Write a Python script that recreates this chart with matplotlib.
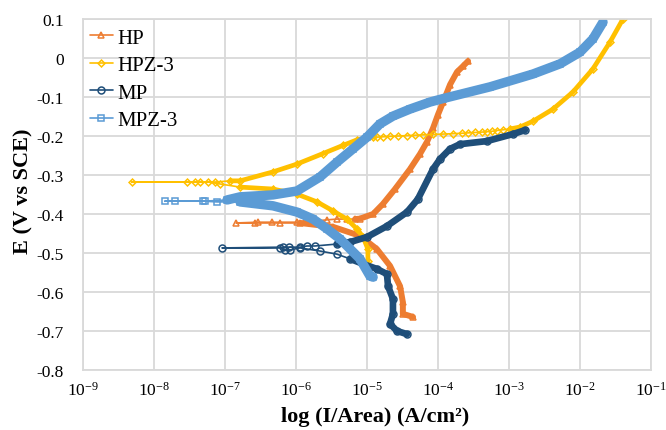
import numpy as np
import matplotlib
matplotlib.use("Agg")
import matplotlib.pyplot as plt
from matplotlib.ticker import LogFormatterSciNotation, FuncFormatter, NullLocator

plt.rcParams["font.family"] = ["Liberation Serif", "DejaVu Serif"]
plt.rcParams["mathtext.fontset"] = "custom"
plt.rcParams["mathtext.rm"] = "Liberation Serif"
plt.rcParams["axes.unicode_minus"] = False

# polarisation curves: current density (A/cm2) and potential (V vs SCE),
# cathodic end -> corrosion potential -> anodic end
hp_i = [4.45e-5, 3.2e-5, 3.2e-5, 2.92e-5, 2.11e-5, 1.38e-5, 7.96e-6, 3.32e-6, 1.14e-6,
        5.95e-7, 2.65e-7, 1.43e-7, 2.9e-7, 4.6e-7, 1.03e-6, 1.34e-6, 1.85e-6, 2.73e-6, 3.8e-6, 5.2e-6, 6.8e-6,
        7.96e-6, 1.22e-5, 1.68e-5, 2.48e-5, 4.03e-5, 5.58e-5, 7.0e-5, 8.5e-5, 1.0e-4, 1.18e-4, 1.48e-4,
        1.85e-4, 2.25e-4, 2.65e-4]
hp_e = [-0.664, -0.656, -0.626, -0.585, -0.533, -0.490, -0.456, -0.433, -0.423,
        -0.423, -0.423, -0.423, -0.421, -0.421, -0.421, -0.418, -0.418, -0.415, -0.413, -0.413, -0.413,
        -0.412, -0.400, -0.374, -0.336, -0.285, -0.246, -0.215, -0.180, -0.145, -0.113, -0.068,
        -0.036, -0.021, -0.008]

hpz_i = [1.03e-5, 1.03e-5, 8.8e-6, 7.2e-6, 5.2e-6, 3.32e-6, 1.98e-6, 1.03e-6, 4.74e-7, 1.63e-7,
         8.5e-8, 5.8e-8, 3.8e-8, 2.9e-8, 4.9e-9, 4.4e-8, 7.2e-8, 1.18e-7,
         1.63e-7, 4.74e-7, 1.03e-6, 2.4e-6, 4.6e-6, 7.2e-6, 1.22e-5,
         1.37e-5, 1.70e-5, 2.11e-5, 2.76e-5, 3.62e-5, 4.74e-5, 6.2e-5, 8.6e-5, 1.19e-4, 1.64e-4,
         2.16e-4, 2.67e-4, 3.32e-4, 4.12e-4, 4.85e-4, 5.70e-4, 6.71e-4, 8.3e-4, 1.03e-3,
         1.43e-3, 2.18e-3, 4.17e-3, 7.97e-3, 1.52e-2, 2.65e-2, 4.03e-2]
hpz_e = [-0.521, -0.490, -0.459, -0.438, -0.413, -0.392, -0.369, -0.349, -0.336, -0.331,
         -0.323, -0.318, -0.318, -0.318, -0.318, -0.318, -0.318, -0.315,
         -0.315, -0.292, -0.272, -0.245, -0.224, -0.210, -0.203,
         -0.203, -0.202, -0.201, -0.200, -0.199, -0.198, -0.197, -0.196, -0.195, -0.194,
         -0.193, -0.192, -0.191, -0.190, -0.189, -0.188, -0.186, -0.184, -0.182,
         -0.177, -0.162, -0.131, -0.087, -0.028, 0.041, 0.100]

mp_i = [3.66e-5, 2.65e-5, 2.11e-5, 2.32e-5, 2.32e-5, 1.98e-5, 1.91e-5, 1.38e-5, 8.8e-6, 5.77e-6,
        3.78e-6, 2.18e-6, 1.14e-6, 8.2e-7, 7.0e-7, 5.95e-7, 9.07e-8, 6.5e-7, 8.0e-7, 1.14e-6, 1.43e-6, 1.85e-6, 3.8e-6,
        5.77e-6, 1.0e-5, 1.91e-5, 3.66e-5, 5.2e-5, 8.5e-5, 1.07e-4, 1.48e-4, 2.04e-4, 4.9e-4, 1.14e-3, 1.68e-3]
mp_e = [-0.708, -0.700, -0.682, -0.656, -0.618, -0.585, -0.554, -0.541, -0.528, -0.515,
        -0.503, -0.495, -0.487, -0.492, -0.492, -0.487, -0.487, -0.485, -0.485, -0.485, -0.482, -0.482, -0.477,
        -0.472, -0.459, -0.431, -0.395, -0.362, -0.285, -0.259, -0.233, -0.221, -0.213, -0.195, -0.185]

mpz_i = [1.22e-5, 1.1e-5, 7.96e-6, 4.17e-6, 2.73e-6, 1.74e-6, 1.03e-6, 4.74e-7, 1.63e-7,
         7.7e-8, 4.9e-8, 1.98e-8, 1.43e-8, 5.2e-8, 1.07e-7,
         1.63e-7, 4.74e-7, 1.03e-6, 2.18e-6, 3.78e-6, 6.35e-6, 1.0e-5, 1.52e-5, 2.32e-5, 4.03e-5,
         7.7e-5, 1.18e-4, 5.4e-4, 2.18e-3, 5.23e-3, 1.0e-2, 1.52e-2, 2.11e-2]
mpz_e = [-0.562, -0.559, -0.515, -0.464, -0.438, -0.413, -0.395, -0.379, -0.369,
         -0.369, -0.367, -0.367, -0.367, -0.367, -0.364,
         -0.356, -0.351, -0.341, -0.305, -0.267, -0.233, -0.203, -0.169, -0.149, -0.131,
         -0.113, -0.104, -0.074, -0.041, -0.015, 0.015, 0.049, 0.092]

labels = ["HP", "HPZ-3", "MP", "MPZ-3"]
x_ticks = [1e-9, 1e-8, 1e-7, 1e-6, 1e-5, 1e-4, 1e-3, 1e-2, 1e-1]
y_ticks = [-0.8, -0.7, -0.6, -0.5, -0.4, -0.3, -0.2, -0.1, 0.0, 0.1]

# colour, marker, marker size, band width, index ranges drawn as dense bands
styles = [
    ("#ED7D31", "^", 5, 4.3, [(0, 9), (20, 35)]),
    ("#FFC000", "D", 3.5, 3.4, [(0, 10), (17, 25), (43, 51)]),
    ("#1F4E79", "o", 5, 4.8, [(0, 10), (22, 35)]),
    ("#5B9BD5", "s", 5, 6.8, [(0, 9), (14, 33)]),
]
series = [(hp_i, hp_e), (hpz_i, hpz_e), (mp_i, mp_e), (mpz_i, mpz_e)]

fig = plt.figure(figsize=(6.66, 4.31), dpi=100)
ax = fig.add_axes([83 / 666, 1 - 371 / 431, 568 / 666, 351 / 431])

for (cur, pot), label, (col, mk, ms, lw, bands) in zip(series, labels, styles):
    cur = np.array(cur)
    pot = np.array(pot)
    ax.plot(cur, pot, color=col, lw=1.2, marker=mk, ms=ms, mfc="none",
            mec=col, mew=1.1, label=label, solid_capstyle="round")
    for a, b in bands:
        ax.plot(cur[a:b], pot[a:b], color=col, lw=lw,
                solid_capstyle="round", solid_joinstyle="round")

ax.set_xscale("log")
ax.set_xlim(1e-9, 1e-1)
ax.set_ylim(-0.8, 0.1)
ax.set_xticks(x_ticks)
ax.xaxis.set_major_formatter(LogFormatterSciNotation())
ax.xaxis.set_minor_locator(NullLocator())
ax.set_yticks(y_ticks)
ax.yaxis.set_major_formatter(FuncFormatter(lambda v, p: "{:g}".format(round(v, 1))))

ax.grid(True, color="#D9D9D9", lw=1.3)
ax.set_axisbelow(True)
for sp in ax.spines.values():
    sp.set_color("#D9D9D9")
    sp.set_linewidth(1.3)
ax.tick_params(length=0, labelsize=12.5, colors="#000000")
ax.tick_params(axis="y", pad=14)
ax.tick_params(axis="x", pad=8)

ax.set_xlabel("log (I/Area) (A/cm²)", fontsize=16, fontweight="bold")
ax.set_ylabel("E (V vs SCE)", fontsize=16, fontweight="bold")
ax.xaxis.set_label_coords(0.514, -0.103)
ax.yaxis.set_label_coords(-0.088, 0.513)

ax.legend(loc="upper left", bbox_to_anchor=(0.012, 0.974), frameon=False,
          fontsize=15, borderpad=0, borderaxespad=0, labelspacing=0.38,
          handlelength=1.1, handletextpad=0.2)

fig.savefig("out.png", dpi=100)
